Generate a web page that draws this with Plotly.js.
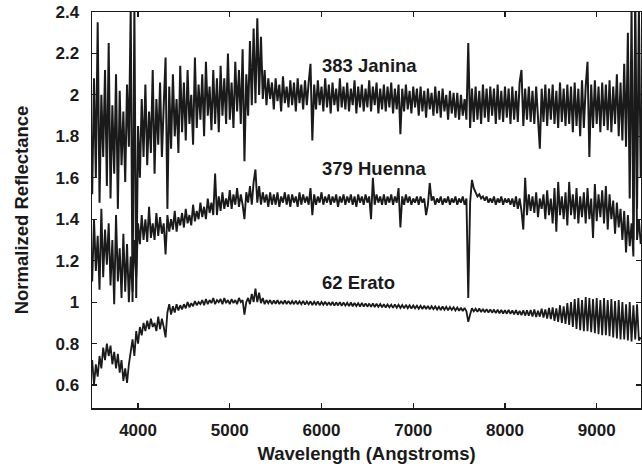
<!DOCTYPE html>
<html>
<head>
<meta charset="utf-8">
<script src="https://cdn.plot.ly/plotly-3.0.1.min.js"></script>
<style>html,body{margin:0;padding:0;background:#fff;}#chart{width:642px;height:468px;}</style>
</head>
<body>
<div id="chart"></div>
<script>
// Wavelength grid (Angstroms)
var wavelength = [
  3480,3500,3520,3540,3560,3580,3600,3620,3640,3660,
  3680,3700,3720,3740,3760,3780,3800,3820,3840,3860,
  3880,3900,3920,3940,3960,3980,4000,4020,4040,4060,
  4080,4100,4120,4140,4160,4180,4200,4220,4240,4260,
  4280,4300,4320,4340,4360,4380,4400,4420,4440,4460,
  4480,4500,4520,4540,4560,4580,4600,4620,4640,4660,
  4680,4700,4720,4740,4760,4780,4800,4820,4840,4860,
  4880,4900,4920,4940,4960,4980,5000,5020,5040,5060,
  5080,5100,5120,5140,5160,5180,5200,5220,5240,5260,
  5280,5300,5320,5340,5360,5380,5400,5420,5440,5460,
  5480,5500,5520,5540,5560,5580,5600,5620,5640,5660,
  5680,5700,5720,5740,5760,5780,5800,5820,5840,5860,
  5880,5900,5920,5940,5960,5980,6000,6020,6040,6060,
  6080,6100,6120,6140,6160,6180,6200,6220,6240,6260,
  6280,6300,6320,6340,6360,6380,6400,6420,6440,6460,
  6480,6500,6520,6540,6560,6580,6600,6620,6640,6660,
  6680,6700,6720,6740,6760,6780,6800,6820,6840,6860,
  6880,6900,6920,6940,6960,6980,7000,7020,7040,7060,
  7080,7100,7120,7140,7160,7180,7200,7220,7240,7260,
  7280,7300,7320,7340,7360,7380,7400,7420,7440,7460,
  7480,7500,7520,7540,7560,7580,7600,7620,7640,7660,
  7680,7700,7720,7740,7760,7780,7800,7820,7840,7860,
  7880,7900,7920,7940,7960,7980,8000,8020,8040,8060,
  8080,8100,8120,8140,8160,8180,8200,8220,8240,8260,
  8280,8300,8320,8340,8360,8380,8400,8420,8440,8460,
  8480,8500,8520,8540,8560,8580,8600,8620,8640,8660,
  8680,8700,8720,8740,8760,8780,8800,8820,8840,8860,
  8880,8900,8920,8940,8960,8980,9000,9020,9040,9060,
  9080,9100,9120,9140,9160,9180,9200,9220,9240,9260,
  9280,9300,9320,9340,9360,9380,9400,9420,9440,9460,
  9480
];

// 383 Janina (offset spectrum)
var janina = [
  1.90,1.52,2.08,1.60,2.35,1.48,2.00,1.70,2.12,1.56,
  2.25,1.50,1.95,1.62,2.10,1.45,2.02,1.66,1.92,1.58,
  2.05,1.75,2.42,1.00,2.42,1.02,1.85,1.60,1.98,1.70,
  2.05,1.66,1.92,1.72,2.12,1.62,1.98,1.76,2.06,1.70,
  1.95,2.18,1.45,2.04,1.74,2.10,1.80,1.98,1.72,2.14,
  1.82,2.06,1.78,2.12,1.86,2.00,1.76,2.18,1.84,2.05,
  1.88,2.10,1.80,2.16,1.90,2.04,1.83,2.12,1.86,2.08,
  1.82,2.14,1.90,2.08,1.86,2.20,1.88,2.06,1.84,2.16,
  1.92,2.12,1.86,2.22,1.68,2.10,1.90,2.26,1.95,2.32,
  1.96,2.37,2.00,2.28,1.98,2.12,1.95,2.08,1.98,2.06,
  1.93,2.08,1.97,2.05,1.92,2.09,1.96,2.04,1.94,2.07,
  1.95,2.06,1.92,2.08,1.96,2.05,1.93,2.07,1.95,2.06,
  2.15,1.78,2.05,1.93,2.07,1.95,2.04,1.92,2.08,1.94,
  2.05,1.91,2.06,1.95,2.03,1.92,2.08,1.94,2.04,1.93,
  2.06,1.92,2.03,1.95,2.07,1.91,2.04,1.94,2.05,1.92,
  2.03,1.94,2.07,1.92,2.04,1.95,2.06,1.91,2.03,1.93,
  2.05,1.92,2.04,1.94,2.06,1.91,2.03,1.93,2.05,1.81,
  2.03,1.92,2.05,1.93,2.02,1.91,2.04,1.94,2.03,1.90,
  2.04,1.92,2.02,1.89,2.03,1.93,2.01,1.90,2.04,1.91,
  2.02,1.89,2.03,1.92,2.00,1.88,2.02,1.91,2.01,1.89,
  2.01,1.88,2.00,1.90,1.98,1.88,2.25,1.84,2.03,1.87,
  2.04,1.88,2.02,1.86,2.05,1.89,2.03,1.87,2.04,1.90,
  2.03,1.86,2.05,1.88,2.02,1.87,2.04,1.89,2.03,1.86,
  2.04,1.88,2.02,1.87,2.06,2.12,1.85,2.03,1.88,2.04,
  1.87,2.02,1.86,2.04,1.89,1.74,2.03,1.87,2.05,1.85,
  2.03,1.88,2.05,1.86,2.02,1.84,2.06,1.87,2.03,1.85,
  2.05,1.86,2.04,1.82,2.06,1.85,2.03,1.80,2.07,1.84,
  2.04,2.16,1.70,2.05,1.84,2.07,1.86,2.04,1.82,2.06,
  1.85,2.05,1.83,2.07,1.82,2.04,1.86,2.10,1.80,2.06,
  1.78,2.15,1.75,2.30,1.50,2.42,1.30,2.42,1.45,2.42,
  1.60
];

// 379 Huenna (offset spectrum)
var huenna = [
  1.28,1.10,1.40,1.15,1.32,1.06,1.45,1.12,1.35,1.18,
  1.38,1.08,1.30,0.99,1.42,1.10,1.26,1.02,1.33,1.05,
  1.28,1.00,1.22,1.05,1.30,1.12,1.38,1.28,1.42,1.30,
  1.40,1.29,1.46,1.31,1.38,1.30,1.43,1.32,1.41,1.33,
  1.38,1.23,1.42,1.34,1.40,1.35,1.44,1.34,1.41,1.37,
  1.43,1.36,1.45,1.38,1.42,1.37,1.47,1.39,1.44,1.40,
  1.48,1.41,1.46,1.40,1.50,1.43,1.48,1.42,1.62,1.42,
  1.51,1.44,1.53,1.45,1.50,1.46,1.54,1.45,1.52,1.47,
  1.55,1.46,1.52,1.47,1.40,1.53,1.48,1.56,1.47,1.58,
  1.64,1.48,1.56,1.47,1.53,1.48,1.52,1.46,1.53,1.47,
  1.52,1.47,1.53,1.46,1.51,1.48,1.53,1.47,1.52,1.46,
  1.52,1.48,1.51,1.46,1.53,1.47,1.52,1.48,1.51,1.47,
  1.55,1.42,1.52,1.47,1.51,1.48,1.53,1.47,1.51,1.48,
  1.52,1.47,1.51,1.48,1.52,1.46,1.51,1.48,1.52,1.47,
  1.51,1.48,1.52,1.47,1.51,1.46,1.52,1.48,1.51,1.47,
  1.52,1.48,1.51,1.40,1.60,1.47,1.52,1.48,1.51,1.47,
  1.52,1.47,1.51,1.48,1.52,1.47,1.51,1.48,1.55,1.36,
  1.51,1.47,1.52,1.48,1.51,1.47,1.50,1.48,1.51,1.47,
  1.51,1.48,1.50,1.42,1.47,1.575,1.49,1.51,1.47,1.50,
  1.48,1.51,1.47,1.50,1.48,1.51,1.47,1.50,1.48,1.51,
  1.47,1.50,1.48,1.51,1.47,1.50,1.02,1.48,1.59,1.55,
  1.53,1.51,1.52,1.50,1.51,1.49,1.51,1.48,1.50,1.48,
  1.51,1.47,1.50,1.48,1.51,1.47,1.50,1.48,1.50,1.47,
  1.50,1.46,1.51,1.45,1.50,1.44,1.35,1.60,1.42,1.52,
  1.44,1.51,1.43,1.53,1.41,1.50,1.45,1.52,1.40,1.54,
  1.42,1.50,1.38,1.55,1.34,1.58,1.42,1.51,1.40,1.53,
  1.37,1.58,1.42,1.52,1.40,1.55,1.38,1.51,1.41,1.53,
  1.38,1.55,1.40,1.50,1.31,1.57,1.39,1.52,1.41,1.54,
  1.38,1.56,1.35,1.52,1.40,1.49,1.33,1.48,1.36,1.45,
  1.30,1.44,1.24,1.42,1.27,1.38,1.22,2.40,1.30,1.40,
  1.28
];

// 62 Erato
var erato = [
  0.66,0.72,0.60,0.70,0.64,0.74,0.68,0.78,0.72,0.80,
  0.74,0.79,0.70,0.76,0.68,0.75,0.66,0.72,0.62,0.68,
  0.61,0.70,0.76,0.82,0.74,0.86,0.80,0.88,0.84,0.90,
  0.86,0.91,0.87,0.92,0.88,0.90,0.86,0.93,0.87,0.92,
  0.88,0.83,0.95,0.99,0.94,0.98,0.95,0.99,0.96,0.985,
  0.965,0.99,0.97,1.0,0.975,0.995,0.98,1.005,0.985,1.0,
  0.99,1.01,0.985,1.015,0.99,1.01,0.995,1.02,0.99,1.01,
  1.0,1.015,0.99,1.02,0.995,1.01,0.99,1.015,0.995,1.01,
  0.99,1.02,1.0,1.01,0.94,1.0,1.02,0.99,1.04,1.0,
  1.065,1.0,1.045,0.995,1.02,0.99,1.01,0.995,1.01,0.99,
  1.008,0.992,1.01,0.99,1.006,0.99,1.008,0.991,1.006,0.99,
  1.005,0.99,1.007,0.989,1.004,0.99,1.006,0.988,1.003,0.989,
  1.004,0.986,1.002,0.988,1.003,0.985,1.001,0.987,1.002,0.984,
  1.0,0.985,1.001,0.983,0.999,0.984,1.0,0.982,0.998,0.983,
  0.997,0.981,0.998,0.98,0.996,0.981,0.995,0.979,0.996,0.978,
  0.994,0.978,0.993,0.977,0.994,0.976,0.992,0.977,0.991,0.975,
  0.99,0.974,0.989,0.975,0.988,0.972,0.989,0.973,0.987,0.972,
  0.986,0.97,0.987,0.971,0.985,0.969,0.984,0.97,0.983,0.968,
  0.982,0.967,0.983,0.966,0.981,0.965,0.98,0.966,0.979,0.964,
  0.978,0.962,0.979,0.963,0.977,0.961,0.976,0.962,0.975,0.96,
  0.974,0.958,0.973,0.957,0.972,0.956,0.905,0.94,0.97,0.955,
  0.968,0.953,0.969,0.952,0.967,0.951,0.966,0.95,0.965,0.949,
  0.964,0.947,0.963,0.946,0.962,0.945,0.961,0.944,0.962,0.943,
  0.96,0.941,0.962,0.939,0.958,0.937,0.961,0.935,0.96,0.934,
  0.962,0.93,0.965,0.928,0.958,0.93,0.968,0.925,0.965,0.92,
  0.972,0.918,0.975,0.91,0.97,0.905,0.985,0.9,0.98,0.895,
  0.995,0.89,1.0,0.88,1.015,0.87,1.02,0.865,1.01,0.86,
  1.025,0.86,1.02,0.855,1.015,0.85,1.02,0.845,1.01,0.84,
  1.02,0.84,1.01,0.835,1.015,0.83,1.005,0.825,1.01,0.82,
  1.0,0.82,0.99,0.815,1.0,0.81,0.985,0.82,0.99,0.815,
  0.83
];

var seriesNames = ["383 Janina", "379 Huenna", "62 Erato"];
var labelX = [6518, 6573, 6401];
var labelY = [2.144, 1.647, 1.094];
var xTicks = [4000, 5000, 6000, 7000, 8000, 9000];
var yTicks = [0.6, 0.8, 1, 1.2, 1.4, 1.6, 1.8, 2, 2.2, 2.4];

var ink = "#1a1a1a";
var seriesValues = [janina, huenna, erato];
var lineWidths = [2.0, 1.9, 1.8];
var traces = seriesValues.map(function (vals, i) {
  return {x: wavelength, y: vals, type: "scatter", mode: "lines",
          name: seriesNames[i], line: {color: ink, width: lineWidths[i], simplify: false},
          hoverinfo: "x+y+name"};
});

var fontFam = "Liberation Sans, Arial, Helvetica, sans-serif";
var annotations = seriesNames.map(function (n, i) {
  return {x: labelX[i], y: labelY[i], xref: "x", yref: "y", text: "<b>" + n + "</b>",
          showarrow: false, font: {family: fontFam, size: 18.5, color: ink}};
});

var axisCommon = {
  showgrid: false, zeroline: false, showline: true, linecolor: ink, linewidth: 1.5,
  mirror: "allticks", ticks: "inside", ticklen: 5, tickwidth: 1.2, tickcolor: ink,
  tickfont: {family: fontFam, size: 17, color: ink, weight: "bold"}
};

var layout = {
  width: 642, height: 468,
  margin: {l: 92, r: 1, t: 12, b: 60},
  paper_bgcolor: "#fff", plot_bgcolor: "#fff",
  showlegend: false,
  xaxis: Object.assign({}, axisCommon, {
    range: [3498, 9483], tickvals: xTicks, ticklabelstandoff: 6,
    title: {text: "<b>Wavelength (Angstroms)</b>", standoff: 8,
            font: {family: fontFam, size: 18.5, color: ink}}
  }),
  yaxis: Object.assign({}, axisCommon, {
    range: [0.489, 2.4], tickvals: yTicks, ticklabelstandoff: 8,
    title: {text: "<b>Normalized Reflectance</b>", standoff: 22,
            font: {family: fontFam, size: 18.5, color: ink}}
  }),
  annotations: annotations
};

Plotly.newPlot("chart", traces, layout, {displayModeBar: false, staticPlot: true});
</script>
</body>
</html>
